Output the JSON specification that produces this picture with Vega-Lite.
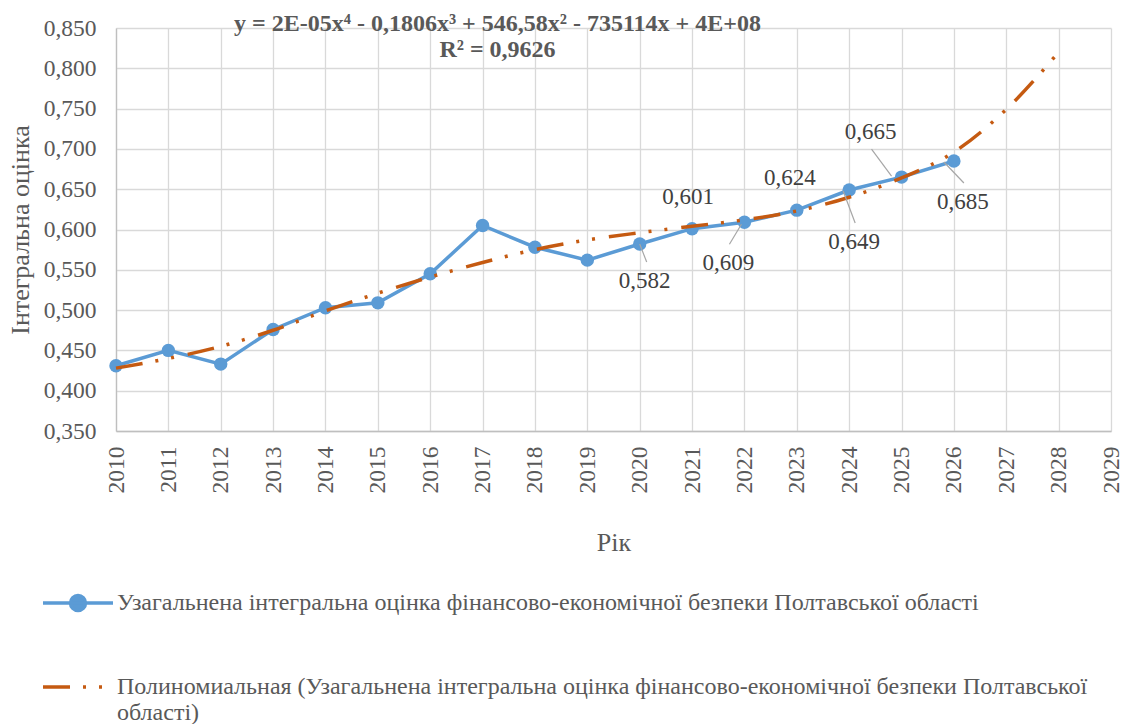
{
  "$schema": "https://vega.github.io/schema/vega-lite/v6.json",
  "autosize": {"type": "none"},
  "padding": {"left": 116, "top": 28, "right": 15, "bottom": 293},
  "width": 995,
  "height": 403,
  "background": "white",
  "title": {
    "text": ["y = 2E-05x⁴ - 0,1806x³ + 546,58x² - 735114x + 4E+08", "R² = 0,9626"],
    "orient": "top",
    "anchor": "middle",
    "frame": "group",
    "align": "center",
    "dx": -116,
    "offset": -65,
    "baseline": "alphabetic",
    "lineHeight": 26,
    "font": "Liberation Serif",
    "fontSize": 24,
    "fontWeight": "bold",
    "color": "#595959"
  },
  "data": {
    "values": [
      {"year": 2010, "value": 0.431, "series": "actual"},
      {"year": 2011, "value": 0.450, "series": "actual"},
      {"year": 2012, "value": 0.433, "series": "actual"},
      {"year": 2013, "value": 0.476, "series": "actual"},
      {"year": 2014, "value": 0.503, "series": "actual"},
      {"year": 2015, "value": 0.509, "series": "actual"},
      {"year": 2016, "value": 0.545, "series": "actual"},
      {"year": 2017, "value": 0.605, "series": "actual"},
      {"year": 2018, "value": 0.578, "series": "actual"},
      {"year": 2019, "value": 0.562, "series": "actual"},
      {"year": 2020, "value": 0.582, "series": "actual"},
      {"year": 2021, "value": 0.601, "series": "actual"},
      {"year": 2022, "value": 0.609, "series": "actual"},
      {"year": 2023, "value": 0.624, "series": "actual"},
      {"year": 2024, "value": 0.649, "series": "actual"},
      {"year": 2025, "value": 0.665, "series": "actual"},
      {"year": 2026, "value": 0.685, "series": "actual"},
      {"year": 2010, "value": 0.428, "series": "trend"},
      {"year": 2011, "value": 0.440, "series": "trend"},
      {"year": 2012, "value": 0.455, "series": "trend"},
      {"year": 2013, "value": 0.475, "series": "trend"},
      {"year": 2014, "value": 0.499, "series": "trend"},
      {"year": 2015, "value": 0.521, "series": "trend"},
      {"year": 2016, "value": 0.541, "series": "trend"},
      {"year": 2017, "value": 0.559, "series": "trend"},
      {"year": 2018, "value": 0.575, "series": "trend"},
      {"year": 2019, "value": 0.587, "series": "trend"},
      {"year": 2020, "value": 0.596, "series": "trend"},
      {"year": 2021, "value": 0.604, "series": "trend"},
      {"year": 2022, "value": 0.612, "series": "trend"},
      {"year": 2023, "value": 0.623, "series": "trend"},
      {"year": 2024, "value": 0.640, "series": "trend"},
      {"year": 2025, "value": 0.664, "series": "trend"},
      {"year": 2026, "value": 0.696, "series": "trend"},
      {"year": 2027, "value": 0.749, "series": "trend"},
      {"year": 2028, "value": 0.820, "series": "trend"}
    ]
  },
  "encoding": {
    "x": {
      "field": "year", "type": "quantitative",
      "scale": {"domain": [2010, 2029], "nice": false, "zero": false},
      "axis": {
        "title": "Рік",
        "values": [2010,2011,2012,2013,2014,2015,2016,2017,2018,2019,2020,2021,2022,2023,2024,2025,2026,2027,2028,2029],
        "format": "d",
        "labelAngle": 270,
        "labelPadding": 15,
        "titlePadding": 36
      }
    },
    "y": {
      "field": "value", "type": "quantitative",
      "scale": {"domain": [0.35, 0.85], "nice": false, "zero": false},
      "axis": {
        "title": "Інтегральна оцінка",
        "values": [0.35,0.4,0.45,0.5,0.55,0.6,0.65,0.7,0.75,0.8,0.85],
        "format": ".3f",
        "labelPadding": 20,
        "titlePadding": 10
      }
    }
  },
  "layer": [
    {
      "transform": [{"filter": "datum.series === 'actual'"}],
      "mark": {"type": "line", "strokeWidth": 3.5, "point": {"filled": true, "size": 180, "opacity": 1}},
      "encoding": {
        "color": {
          "field": "series", "type": "nominal",
          "scale": {"domain": ["actual", "trend"], "range": ["#5B9BD5", "#C55A11"]},
          "legend": {
            "orient": "none",
            "legendX": -75,
            "legendY": 538,
            "direction": "vertical",
            "title": null,
            "padding": 0,
            "symbolSize": 4900,
            "symbolStrokeWidth": 3.5,
            "labelOffset": 2,
            "rowPadding": 32,
            "labelFont": "Liberation Serif",
            "labelFontSize": 24,
            "labelColor": "#595959",
            "labelLimit": 1100,
            "labelExpr": "datum.value === 'actual' ? 'Узагальнена інтегральна оцінка фінансово-економічної безпеки Полтавської області' : ['Полиномиальная (Узагальнена інтегральна оцінка фінансово-економічної безпеки Полтавської', 'області)']",
            "encode": {
              "symbols": {
                "update": {
                  "shape": {"signal": "datum.index === 0 ? 'M-1,0L1,0M-0.214,0A0.214,0.214,0,1,1,0.214,0A0.214,0.214,0,1,1,-0.214,0' : 'M-1,0L1,0'"},
                  "strokeDash": {"signal": "datum.index === 0 ? [] : [27,13,3,13,3,14]"},
                  "fill": {"signal": "datum.index === 0 ? '#5B9BD5' : 'transparent'"},
                  "stroke": {"signal": "datum.index === 0 ? '#5B9BD5' : '#C55A11'"},
                  "strokeWidth": {"value": 3.5},
                  "opacity": {"value": 1}
                }
              }
            }
          }
        }
      }
    },
    {
      "transform": [{"filter": "datum.series === 'trend'"}],
      "mark": {"type": "line", "strokeWidth": 3.5, "strokeDash": [27,13,3,13,3,14], "strokeCap": "butt", "interpolate": "monotone"},
      "encoding": {
        "color": {"field": "series", "type": "nominal"}
      }
    },
    {
      "transform": [{"filter": "datum.series === 'actual' && datum.year === 2020"}],
      "mark": {"type": "rule", "color": "#A6A6A6", "strokeWidth": 1.2, "x2Offset": 7, "y2Offset": 18},
      "encoding": {"x2": {"field": "year"}, "y2": {"field": "value"}}
    },
    {
      "transform": [{"filter": "datum.series === 'actual' && datum.year === 2022"}],
      "mark": {"type": "rule", "color": "#A6A6A6", "strokeWidth": 1.2, "xOffset": -3, "yOffset": 2, "x2Offset": -15, "y2Offset": 22},
      "encoding": {"x2": {"field": "year"}, "y2": {"field": "value"}}
    },
    {
      "transform": [{"filter": "datum.series === 'actual' && datum.year === 2024"}],
      "mark": {"type": "rule", "color": "#A6A6A6", "strokeWidth": 1.2, "xOffset": -6, "yOffset": 1, "x2Offset": 6, "y2Offset": 33},
      "encoding": {"x2": {"field": "year"}, "y2": {"field": "value"}}
    },
    {
      "transform": [{"filter": "datum.series === 'actual' && datum.year === 2025"}],
      "mark": {"type": "rule", "color": "#A6A6A6", "strokeWidth": 1.2, "xOffset": -10, "yOffset": -1, "x2Offset": -30, "y2Offset": -28},
      "encoding": {"x2": {"field": "year"}, "y2": {"field": "value"}}
    },
    {
      "transform": [{"filter": "datum.series === 'actual' && datum.year === 2026"}],
      "mark": {"type": "rule", "color": "#A6A6A6", "strokeWidth": 1.2, "xOffset": -10, "yOffset": 1, "x2Offset": 10, "y2Offset": 22},
      "encoding": {"x2": {"field": "year"}, "y2": {"field": "value"}}
    },
    {
      "transform": [{"filter": "datum.series === 'actual' && datum.year === 2020"}],
      "mark": {"type": "text", "font": "Liberation Serif", "fontSize": 23, "color": "#404040", "dx": 5, "dy": 37},
      "encoding": {"text": {"field": "value", "format": ".3f"}}
    },
    {
      "transform": [{"filter": "datum.series === 'actual' && datum.year === 2021"}],
      "mark": {"type": "text", "font": "Liberation Serif", "fontSize": 23, "color": "#404040", "dx": -4, "dy": -32},
      "encoding": {"text": {"field": "value", "format": ".3f"}}
    },
    {
      "transform": [{"filter": "datum.series === 'actual' && datum.year === 2022"}],
      "mark": {"type": "text", "font": "Liberation Serif", "fontSize": 23, "color": "#404040", "dx": -16, "dy": 41},
      "encoding": {"text": {"field": "value", "format": ".3f"}}
    },
    {
      "transform": [{"filter": "datum.series === 'actual' && datum.year === 2023"}],
      "mark": {"type": "text", "font": "Liberation Serif", "fontSize": 23, "color": "#404040", "dx": -7, "dy": -32},
      "encoding": {"text": {"field": "value", "format": ".3f"}}
    },
    {
      "transform": [{"filter": "datum.series === 'actual' && datum.year === 2024"}],
      "mark": {"type": "text", "font": "Liberation Serif", "fontSize": 23, "color": "#404040", "dx": 5, "dy": 52},
      "encoding": {"text": {"field": "value", "format": ".3f"}}
    },
    {
      "transform": [{"filter": "datum.series === 'actual' && datum.year === 2025"}],
      "mark": {"type": "text", "font": "Liberation Serif", "fontSize": 23, "color": "#404040", "dx": -31, "dy": -45},
      "encoding": {"text": {"field": "value", "format": ".3f"}}
    },
    {
      "transform": [{"filter": "datum.series === 'actual' && datum.year === 2026"}],
      "mark": {"type": "text", "font": "Liberation Serif", "fontSize": 23, "color": "#404040", "dx": 9, "dy": 41},
      "encoding": {"text": {"field": "value", "format": ".3f"}}
    }
  ],
  "config": {
    "locale": {"number": {"decimal": ",", "thousands": " ", "grouping": [3], "currency": ["", ""]}},
    "view": {"stroke": null},
    "axis": {
      "labelFont": "Liberation Serif",
      "labelFontSize": 23.5,
      "labelColor": "#595959",
      "titleFont": "Liberation Serif",
      "titleFontSize": 26,
      "titleFontWeight": "normal",
      "titleColor": "#595959",
      "gridColor": "#D9D9D9",
      "gridWidth": 1.3,
      "domainColor": "#BFBFBF",
      "domainWidth": 1.3,
      "ticks": false
    }
  }
}
